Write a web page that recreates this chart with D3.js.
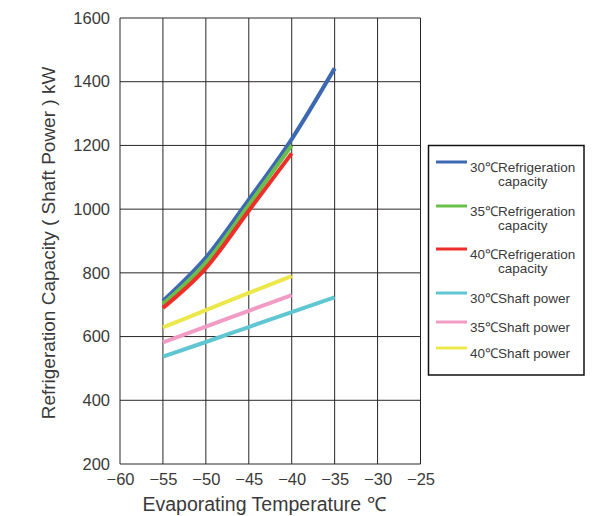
<!DOCTYPE html>
<html>
<head>
<meta charset="utf-8">
<script src="https://cdn.jsdelivr.net/npm/d3@7"></script>
<style>
  html, body { margin: 0; padding: 0; background: #fff; }
  svg { display: block; font-family: "Liberation Sans", Arial, sans-serif; }
</style>
</head>
<body>
<svg id="chart" width="599" height="516"></svg>
<script>
// Evaporating temperatures (°C)
const temps = [-55, -50, -45, -40, -35];

// Refrigeration capacity (kW) by condensing temperature
const cap30 = [712, 848, 1030, 1220, 1442];
const cap35 = [702, 832, 1013, 1200];
const cap40 = [690, 815, 995, 1175];

// Shaft power (kW) by condensing temperature
const pow30 = [537, 583, 630, 677, 723];
const pow35 = [582, 631, 681, 730];
const pow40 = [629, 683, 737, 790];

const seriesNames = [
  "30℃Refrigeration capacity",
  "35℃Refrigeration capacity",
  "40℃Refrigeration capacity",
  "30℃Shaft power",
  "35℃Shaft power",
  "40℃Shaft power"
];
const seriesValues = [cap30, cap35, cap40, pow30, pow35, pow40];
const seriesColors = ["#3d69b3", "#6abf4b", "#ee2e29", "#60c6d1", "#f19cc4", "#ece84b"];

const xTicks = [-60, -55, -50, -45, -40, -35, -30, -25];
const yTicks = [200, 400, 600, 800, 1000, 1200, 1400, 1600];

const svg = d3.select("#chart");
const plot = { left: 120, right: 420.5, top: 18, bottom: 464 };

const x = d3.scaleLinear().domain([-60, -25]).range([plot.left, plot.right]);
const y = d3.scaleLinear().domain([200, 1600]).range([plot.bottom, plot.top]);

const gridColor = "#2b2626";
const textColor = "#3a3a3a";

// grid
const g = svg.append("g");
g.selectAll("line.vx").data(xTicks).join("line")
  .attr("x1", d => x(d)).attr("x2", d => x(d))
  .attr("y1", plot.top).attr("y2", plot.bottom)
  .attr("stroke", gridColor).attr("stroke-width", 1);
g.selectAll("line.hy").data(yTicks).join("line")
  .attr("x1", plot.left).attr("x2", plot.right)
  .attr("y1", d => y(d)).attr("y2", d => y(d))
  .attr("stroke", gridColor).attr("stroke-width", 1);

// tick labels via d3 axes (tick lines hidden)
const xAxis = svg.append("g")
  .attr("transform", `translate(0,${plot.bottom})`)
  .call(d3.axisBottom(x).tickValues(xTicks).tickSize(0).tickPadding(9).tickFormat(d3.format("d")));
const yAxis = svg.append("g")
  .attr("transform", `translate(${plot.left},0)`)
  .call(d3.axisLeft(y).tickValues(yTicks).tickSize(0).tickPadding(10).tickFormat(d3.format("d")));
[xAxis, yAxis].forEach(a => {
  a.select(".domain").remove();
  a.selectAll("text").attr("fill", textColor).style("font-size", "16.5px")
    .style("font-family", "'Liberation Sans', Arial, sans-serif");
});

// series lines
const line = d3.line()
  .x((d, i) => x(temps[i]))
  .y(d => y(d))
  .curve(d3.curveMonotoneX);

svg.append("g").selectAll("path").data(seriesValues).join("path")
  .attr("d", d => line(d))
  .attr("fill", "none")
  .attr("stroke", (d, i) => seriesColors[i])
  .attr("stroke-width", 4)
  .attr("stroke-linecap", "butt");

// axis titles
svg.append("text")
  .attr("x", 264)
  .attr("y", 511)
  .attr("text-anchor", "middle")
  .attr("fill", textColor)
  .style("font-size", "19.5px")
  .text("Evaporating Temperature ℃");

svg.append("text")
  .attr("transform", `translate(55,243) rotate(-90)`)
  .attr("text-anchor", "middle")
  .attr("fill", textColor)
  .style("font-size", "19px")
  .text("Refrigeration Capacity ( Shaft Power ) kW");

// legend
const legend = svg.append("g");
legend.append("rect")
  .attr("x", 428.5).attr("y", 145.5)
  .attr("width", 155.5).attr("height", 229.5)
  .attr("fill", "#fff").attr("stroke", "#111").attr("stroke-width", 1.5);

const legendY = [162, 206, 249, 293, 322, 348];
seriesNames.forEach((name, i) => {
  const ly = legendY[i];
  legend.append("line")
    .attr("x1", 436).attr("x2", 467)
    .attr("y1", ly).attr("y2", ly)
    .attr("stroke", seriesColors[i]).attr("stroke-width", 3);
  const parts = name.split(" capacity");
  const t1 = legend.append("text")
    .attr("x", 470).attr("y", ly + 10)
    .attr("fill", textColor)
    .style("font-size", "13.5px")
    .text(parts[0]);
  if (parts.length > 1) {
    const w = t1.node().getComputedTextLength();
    legend.append("text")
      .attr("x", 470 + w / 2).attr("y", ly + 24)
      .attr("text-anchor", "middle")
      .attr("fill", textColor)
      .style("font-size", "13.5px")
      .text("capacity");
  }
});
</script>
</body>
</html>
